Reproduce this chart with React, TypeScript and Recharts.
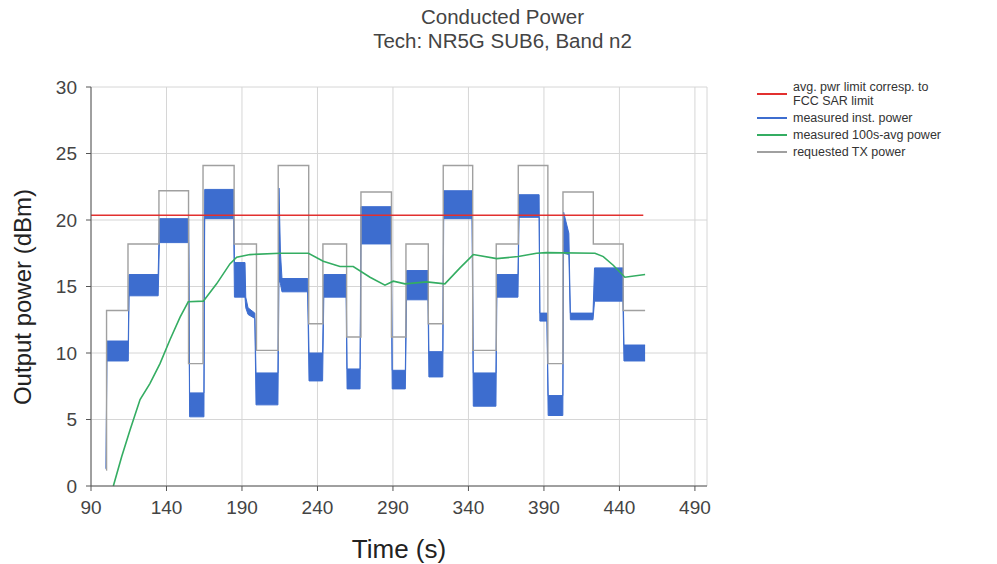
import React from "react";
import {
  ComposedChart,
  Line,
  Area,
  XAxis,
  YAxis,
  CartesianGrid,
  Label,
} from "recharts";

// time axis (s)
const timeTicks = [90, 140, 190, 240, 290, 340, 390, 440, 490];
const powerTicks = [0, 5, 10, 15, 20, 25, 30];

// requested TX power (step function, value holds until next time)
const reqTime = [100, 100.3, 114.5, 135, 154.6, 164.2, 184.8, 199.6, 214, 234.2, 243.6, 259.3, 268.8, 289, 298.6, 313.4, 323.3, 342.8, 358.4, 373, 392.6, 402.6, 422.7, 442.5, 457];
const reqPower = [1.2, 13.2, 18.2, 22.2, 9.2, 24.1, 18.2, 10.2, 24.1, 12.2, 18.2, 11.2, 22.1, 11.2, 18.2, 12.2, 24.1, 10.2, 18.2, 24.1, 9.2, 22.1, 18.2, 13.2, 13.2];

// measured inst. power, drawn as noise band (low / high)
const instTime = [100, 100.5, 114.7, 115.2, 134.5, 135.3, 154.7, 155.3, 164.8, 165.3, 184.5, 185, 192, 192.5, 194, 198.5, 199.3, 213.8, 214.5, 215.5, 216.5, 233.5, 234.4, 243.4, 244.2, 259, 259.6, 268.2, 268.8, 288.8, 289.5, 298.2, 299, 313.2, 313.8, 323, 323.6, 342.4, 343.2, 358.2, 358.8, 372.8, 373.5, 386.8, 387.3, 392, 392.8, 402.5, 403, 406.5, 407.5, 422.5, 423.5, 442.3, 443, 457];
const instLow = [1.3, 9.4, 9.4, 14.3, 14.3, 18.3, 18.3, 5.2, 5.2, 20.1, 20.1, 14.2, 14.2, 13.4, 12.9, 12.6, 6.1, 6.1, 15.5, 15.2, 14.6, 14.6, 7.9, 7.9, 14.2, 14.2, 7.3, 7.3, 18.2, 18.2, 7.3, 7.3, 14.0, 14.0, 8.2, 8.2, 20.1, 20.1, 6.0, 6.0, 14.2, 14.2, 20.2, 20.2, 12.4, 12.4, 5.3, 5.3, 17.5, 17.4, 12.5, 12.5, 13.9, 13.9, 9.4, 9.4];
const instHigh = [1.3, 10.9, 10.9, 15.9, 15.9, 20.1, 20.1, 7.0, 7.0, 22.3, 22.3, 16.8, 16.8, 14.2, 13.4, 13.0, 8.5, 8.5, 22.4, 17.5, 15.6, 15.6, 10.0, 10.0, 15.9, 15.9, 8.8, 8.8, 21.0, 21.0, 8.7, 8.7, 16.2, 16.2, 10.1, 10.1, 22.2, 22.2, 8.5, 8.5, 15.9, 15.9, 21.9, 21.9, 13.0, 13.0, 6.8, 6.8, 20.6, 19.0, 13.0, 13.0, 16.4, 16.4, 10.6, 10.6];

// measured 100s-avg power
const avgTime = [104.8, 110.3, 115.8, 122.5, 129, 135.7, 142.3, 149, 154.4, 164.4, 173.2, 182, 186.5, 195.3, 215.2, 234, 243.8, 254.9, 263.7, 274.8, 284.7, 290.2, 298, 312.3, 324.4, 334.4, 343.2, 358.7, 373, 385.1, 391.7, 423.8, 429.3, 435.9, 443.6, 457];
const avgPower = [0, 2.2, 4.2, 6.5, 7.7, 9.2, 11.0, 12.7, 13.85, 13.9, 15.2, 16.7, 17.2, 17.4, 17.5, 17.5, 16.9, 16.5, 16.5, 15.7, 15.1, 15.4, 15.2, 15.35, 15.2, 16.4, 17.4, 17.1, 17.25, 17.5, 17.55, 17.5, 17.25, 16.6, 15.7, 15.9];

// avg. pwr limit (FCC SAR)
const limitTime = [90, 455.8];
const limitPower = [20.35, 20.35];

const RED = "#e2302f";
const BLUE = "#3d6dcf";
const GREEN = "#34ad62";
const GREY = "#a0a0a0";

const reqData = reqTime.map((t, i) => ({ t, v: reqPower[i] }));
const instData = instTime.map((t, i) => ({ t, band: [instLow[i], instHigh[i]] }));
const avgData = avgTime.map((t, i) => ({ t, v: avgPower[i] }));
const limitData = limitTime.map((t, i) => ({ t, v: limitPower[i] }));

const legendItems = [
  { label: "avg. pwr limit corresp. to\nFCC SAR limit", color: RED },
  { label: "measured inst. power", color: BLUE },
  { label: "measured 100s-avg power", color: GREEN },
  { label: "requested TX power", color: GREY },
];

const tickStyle = { fontSize: 19, fill: "#444" };

export default function App() {
  return (
    <div
      style={{
        position: "absolute",
        left: 0,
        top: 0,
        width: 997,
        height: 564,
        background: "#fff",
        fontFamily: "'Liberation Sans', Arial, sans-serif",
      }}
    >
      <div
        style={{
          position: "absolute",
          left: 4,
          top: 5,
          width: 997,
          textAlign: "center",
          fontSize: 20.5,
          lineHeight: "24px",
          color: "#444",
        }}
      >
        Conducted Power
        <br />
        Tech: NR5G SUB6, Band n2
      </div>

      <ComposedChart
        width={997}
        height={564}
        margin={{ top: 87, right: 290, bottom: 48, left: 0 }}
      >
        <CartesianGrid stroke="#d6d6d6" />
        <XAxis
          type="number"
          dataKey="t"
          domain={[90, 498]}
          ticks={timeTicks}
          interval={0}
          allowDataOverflow
          height={30}
          tick={tickStyle}
          tickSize={5}
          tickMargin={10}
          stroke="#555"
        >
          <Label
            content={({ viewBox }: any) => (
              <text
                x={(viewBox?.x ?? 91) + (viewBox?.width ?? 616) / 2}
                y={549}
                textAnchor="middle"
                dominantBaseline="central"
                fontSize={26}
                fill="#222"
              >
                Time (s)
              </text>
            )}
          />
        </XAxis>
        <YAxis
          type="number"
          domain={[0, 30]}
          ticks={powerTicks}
          interval={0}
          width={91}
          tick={tickStyle}
          tickSize={5}
          tickMargin={9}
          stroke="#555"
        >
          <Label
            content={() => (
              <text
                x={22}
                y={297}
                transform="rotate(-90 22 297)"
                textAnchor="middle"
                dominantBaseline="central"
                fontSize={24}
                fill="#222"
              >
                Output power (dBm)
              </text>
            )}
          />
        </YAxis>

        <Line
          data={reqData}
          dataKey="v"
          type="stepAfter"
          stroke={GREY}
          strokeWidth={1.4}
          dot={false}
          activeDot={false}
          isAnimationActive={false}
        />
        <Area
          data={instData}
          dataKey="band"
          type="linear"
          stroke={BLUE}
          strokeWidth={1}
          fill={BLUE}
          fillOpacity={1}
          dot={false}
          activeDot={false}
          isAnimationActive={false}
        />
        <Line
          data={limitData}
          dataKey="v"
          type="linear"
          stroke={RED}
          strokeWidth={1.5}
          dot={false}
          activeDot={false}
          isAnimationActive={false}
        />
        <Line
          data={avgData}
          dataKey="v"
          type="linear"
          stroke={GREEN}
          strokeWidth={1.6}
          dot={false}
          activeDot={false}
          isAnimationActive={false}
        />
      </ComposedChart>

      <div
        style={{
          position: "absolute",
          left: 757,
          top: 80,
          fontSize: 12.5,
          lineHeight: "14px",
          color: "#333",
        }}
      >
        {legendItems.map((it) => (
          <div
            key={it.label}
            style={{ display: "flex", alignItems: "center", marginBottom: 3 }}
          >
            <span
              style={{
                display: "inline-block",
                width: 30,
                height: 2,
                background: it.color,
                marginRight: 6,
              }}
            />
            <span style={{ whiteSpace: "pre-line" }}>{it.label}</span>
          </div>
        ))}
      </div>
    </div>
  );
}
